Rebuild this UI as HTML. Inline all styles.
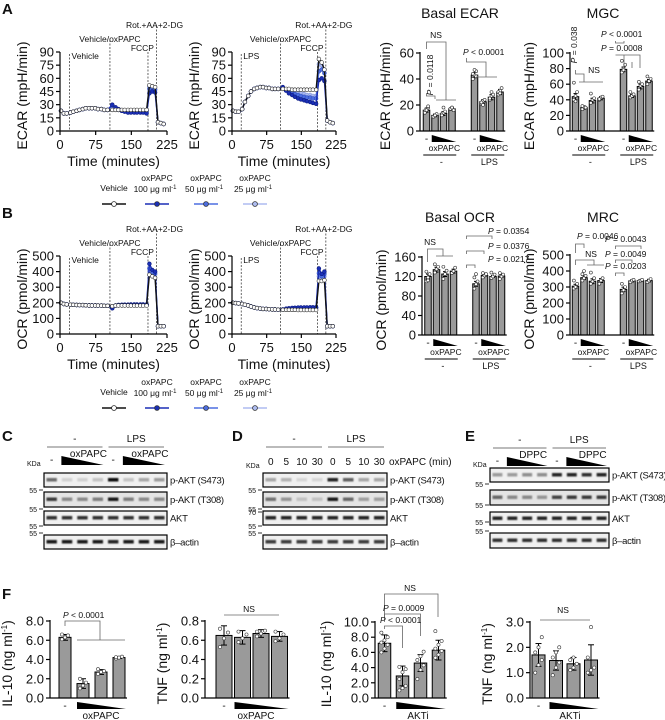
<!DOCTYPE html>
<html><head><meta charset="utf-8">
<style>
html,body{margin:0;padding:0;background:#fff;}
svg{display:block;font-family:"Liberation Sans",Arial,sans-serif;}
</style></head>
<body>
<svg id="fig" width="665" height="720" viewBox="0 0 665 720" xmlns="http://www.w3.org/2000/svg">
<defs><filter id="blur" x="-20%" y="-50%" width="140%" height="200%"><feGaussianBlur stdDeviation="0.9"/></filter></defs>
</svg>
<script>
// ---------- time-series data ----------
const seaTime = [2,8,14,22,28,35,41,48,54,61,67,74,80,87,93,100,110,117,123,130,136,143,149,156,162,169,175,182,188,194,200,206,212,218];
const ecarVehNaive  = [23,20,20,21,22,23,24,25,26,26,26,26,25,25,24,24,24,24,24,24,24,24,24,24,24,24,24,24,52,51,50,10,9,8];
const ecarOx100Naive= [23,20,20,21,22,23,24,25,26,26,26,26,25,25,24,24,30,27,25,23,22,21,21,21,21,21,21,20,43,45,44,10,9,8];
const ecarOx50Naive = [23,20,20,21,22,23,24,25,26,26,26,26,25,25,24,24,29,26,24,23,23,22,22,22,22,22,22,22,48,49,47,10,9,8];
const ecarOx25Naive = [23,20,20,21,22,23,24,25,26,26,26,26,25,25,24,24,28,25,24,23,23,23,23,23,23,23,23,23,50,50,48,10,9,8];
const ecarVehLps    = [23,22,22,25,33,40,45,48,49,50,50,49,49,48,48,48,48,48,48,47,47,47,47,47,47,47,47,47,82,78,70,12,10,9];
const ecarOx100Lps  = [23,22,22,25,33,40,45,48,49,50,50,49,49,48,48,48,50,46,43,41,39,37,36,35,34,33,32,31,58,60,57,12,10,9];
const ecarOx50Lps   = [23,22,22,25,33,40,45,48,49,50,50,49,49,48,48,48,49,46,44,43,42,41,40,39,38,38,37,37,68,70,66,12,10,9];
const ecarOx25Lps   = [23,22,22,25,33,40,45,48,49,50,50,49,49,48,48,48,49,47,46,45,44,43,43,42,41,41,40,40,76,75,70,12,10,9];
const ocrVehNaive   = [200,192,190,188,187,186,185,185,184,183,183,183,182,182,181,181,178,182,183,183,183,183,182,182,182,182,182,182,380,370,360,50,50,50];
const ocrOx100Naive = [200,192,190,188,187,186,185,185,184,183,183,183,182,182,181,181,165,182,186,187,188,188,189,189,189,189,189,189,450,410,400,50,50,50];
const ocrOx50Naive  = [200,192,190,188,187,186,185,185,184,183,183,183,182,182,181,181,168,183,185,186,187,187,188,188,188,188,188,188,420,395,390,50,50,50];
const ocrOx25Naive  = [200,192,190,188,187,186,185,185,184,183,183,183,182,182,181,181,170,182,184,185,185,186,186,186,186,186,186,186,400,385,380,50,50,50];
const ocrVehLps     = [200,198,196,192,188,183,176,170,166,163,161,160,159,158,157,156,155,155,155,155,155,154,154,154,154,154,154,154,340,340,345,50,50,50];
const ocrOx100Lps   = [200,198,196,192,188,183,176,170,166,163,161,160,159,158,157,156,158,162,165,167,168,169,170,170,170,171,171,171,420,385,400,50,50,50];
const ocrOx50Lps    = [200,198,196,192,188,183,176,170,166,163,161,160,159,158,157,156,157,160,163,165,166,167,168,168,168,168,168,168,390,370,385,50,50,50];
const ocrOx25Lps    = [200,198,196,192,188,183,176,170,166,163,161,160,159,158,157,156,156,159,161,163,164,165,165,166,166,166,166,166,370,360,370,50,50,50];
const timeTicks = [0,75,150,225];
const ecarTicks = [0,15,30,45,60,75,90];
const ocrTicks = [0,100,200,300,400,500];

// ---------- bar data ----------
const basalEcarVals = [16,12,13.5,17,43,22.5,26,30];
const basalEcarErr  = [1.5,1,1.5,1,2,1.5,2,2];
const basalEcarPts  = [[15,17,18,14,16,19],[11,12,13,11,12],[13,14,15,12,18],[17,18,16,17,18],[40,43,46,44,47,42],[21,23,24,22,20],[24,27,28,25,30],[28,31,33,30,29]];
const basalEcarTicks = [0,20,40,60];
const mgcVals = [44,30,39,42,79,45,57,64];
const mgcErr  = [4,2,3,2,3,2,3,2];
const mgcPts  = [[40,45,50,62,38],[28,31,30,32],[36,40,42,48],[40,43,44,41],[75,80,85,90,78],[43,45,47,50],[53,58,60,63],[60,64,67,70]];
const mgcTicks = [0,20,40,60,80,100];
const basalOcrVals = [120,134,125,131,105,122,120,121];
const basalOcrErr  = [5,5,5,4,5,2,2,3];
const basalOcrPts  = [[110,118,125,130,112],[128,135,140,145],[115,125,132,140],[127,131,138],[95,104,110,118,125],[118,122,125,127],[117,120,124,128],[115,120,124,127]];
const basalOcrTicks = [0,40,80,120,160];
const mrcVals = [305,358,336,340,285,338,340,340];
const mrcErr  = [12,12,15,12,14,6,6,8];
const mrcPts  = [[290,300,320,340],[340,355,370,380,400],[320,335,355,390],[320,340,355],[260,280,300,320],[330,340,345],[335,340,345],[330,340,350]];
const mrcTicks = [0,100,200,300,400,500];

const il10OxVals = [6.3,1.5,2.7,4.2];
const il10OxErr  = [0.3,0.5,0.25,0.1];
const il10OxPts  = [[6.1,6.3,6.5,6.6],[1.0,1.3,1.6,2.0],[2.5,2.7,2.8,3.0],[4.1,4.2,4.3,4.25]];
const il10OxTicks = [0,2,4,6,8];
const tnfOxVals = [0.65,0.63,0.67,0.64];
const tnfOxErr  = [0.1,0.07,0.04,0.05];
const tnfOxPts  = [[0.53,0.62,0.68,0.72],[0.58,0.62,0.66,0.69],[0.64,0.67,0.70,0.69],[0.59,0.62,0.66,0.69]];
const tnfOxTicks = [0,0.2,0.4,0.6,0.8];
const il10AktVals = [7.2,2.9,4.6,6.3];
const il10AktErr  = [1.1,1.3,1.1,1.3];
const il10AktPts  = [[6.0,6.5,7,7.3,7.6,8,8.6],[1.0,1.3,1.6,2.5,3.4,3.8,4.1],[2.5,3.7,4.3,5.0,5.5,6.1],[5.3,5.7,6.2,6.5,7.0,7.5,8.8]];
const il10AktTicks = [0,2,4,6,8,10];
const tnfAktVals = [1.7,1.48,1.35,1.5];
const tnfAktErr  = [0.45,0.38,0.25,0.6];
const tnfAktPts  = [[1.0,1.3,1.5,1.8,2.0,2.4],[0.9,1.2,1.4,1.6,1.8,2.0],[1.1,1.2,1.35,1.5,1.6],[1.0,1.1,1.2,1.6,2.8]];
const tnfAktTicks = [0,1,2,3];

// ---------- blot band intensities ----------
const blotC = [[0.55,0.12,0.12,0.18,0.95,0.18,0.3,0.35],[0.75,0.4,0.4,0.45,0.9,0.45,0.4,0.4],[0.8,0.8,0.8,0.8,0.8,0.8,0.8,0.8],[0.9,0.9,0.9,0.9,0.85,0.9,0.9,0.9]];
const blotD = [[0.3,0.25,0.1,0.1,0.85,0.6,0.3,0.3],[0.5,0.35,0.15,0.15,0.9,0.55,0.3,0.3],[0.85,0.85,0.85,0.85,0.85,0.85,0.85,0.85],[0.75,0.75,0.75,0.75,0.75,0.75,0.75,0.75]];
const blotE = [[0.35,0.35,0.4,0.4,0.85,0.85,0.8,0.85],[0.55,0.4,0.4,0.35,0.7,0.75,0.75,0.75],[0.85,0.85,0.85,0.85,0.85,0.85,0.85,0.85],[0.8,0.8,0.8,0.8,0.8,0.8,0.8,0.8]];

// ---------- helpers ----------
const NS='http://www.w3.org/2000/svg';
const svg=document.getElementById('fig');
function add(parent, tag, attrs, name){
  const e=document.createElementNS(NS,tag);
  for(const k in attrs) e.setAttribute(k,attrs[k]);
  
  
  parent.appendChild(e); return e;
}
function txt(parent,x,y,s,size,name,anchor,extra){
  const a={x:x,y:y,'font-size':size,fill:'#111','text-anchor':anchor||'start'};
  if(extra) for(const k in extra) a[k]=extra[k];
  const t=add(parent,'text',a,name); t.textContent=s; return t;
}
function line(p,x1,y1,x2,y2,name,w,col,dash){
  const a={x1:x1,y1:y1,x2:x2,y2:y2,stroke:col||'#000','stroke-width':w||1};
  if(dash) a['stroke-dasharray']=dash;
  return add(p,'line',a,name);
}
function grp(name){ return add(svg,'g',{},name); }
function rotText(p,x,y,s,size,name){
  return txt(p,x,y,s,size,name,'middle',{transform:'rotate(-90 '+x+' '+y+')'});
}

// ---------- panel letters ----------
[['A',2,14],['B',2,218],['C',2,441],['D',232,441],['E',465,441],['F',2,599]].forEach(l=>{
  txt(svg,l[1],l[2],l[0],15,'panel-label-'+l[0].toLowerCase(),'start',{'font-weight':'bold'});
});

// ---------- time series ----------
function tsChart(name,cfg){
  const g=grp(name);
  const sx=t=>cfg.ox+(t/225)*(cfg.ex-cfg.ox);
  const sy=v=>cfg.y0-(v/cfg.ymax)*(cfg.y0-cfg.yTop);
  cfg.vlines.forEach(v=>{
    line(g,sx(v.t),v.top,sx(v.t),cfg.y0,'injection-line',0.8,'#444','2,1.5');
    txt(g,v.lx,v.ly,v.label,8.5,'injection-label',v.anchor||'start');
  });
  cfg.series.forEach(s=>{
    const pts=seaTime.map((t,i)=>sx(t).toFixed(1)+','+sy(s.vals[i]).toFixed(1)).join(' ');
    add(g,'polyline',{points:pts,fill:'none',stroke:s.line,'stroke-width':1.4},'series-line-'+s.id);
    seaTime.forEach((t,i)=>{
      add(g,'circle',{cx:sx(t).toFixed(1),cy:sy(s.vals[i]).toFixed(1),r:1.9,fill:s.fill,stroke:s.stroke,'stroke-width':0.6},'point-'+s.id);
    });
  });
  line(g,cfg.ox,cfg.yTop,cfg.ox,cfg.y0,'y-axis',1.2);
  line(g,cfg.ox,cfg.y0,cfg.ex,cfg.y0,'x-axis',1.2);
  cfg.yticks.forEach(v=>{
    line(g,cfg.ox-4,sy(v),cfg.ox,sy(v),'y-tick',1.2);
    txt(g,cfg.ox-6,sy(v)+4.5,String(v),13,'y-tick-label','end');
  });
  timeTicks.forEach(v=>{
    line(g,sx(v),cfg.y0,sx(v),cfg.y0+4,'x-tick',1.2);
    txt(g,sx(v),cfg.y0+18,String(v),13,'x-tick-label','middle');
  });
  txt(g,(cfg.ox+cfg.ex)/2,cfg.y0+35,'Time (minutes)',14,'x-axis-title','middle');
  rotText(g,cfg.ox-33,(cfg.y0+cfg.yTop)/2+4,cfg.ytitle,14,'y-axis-title');
}
const C100='#1b2fb5',C50='#4d6ee0',C25='#aebcf0';
function seriesSet(v,a,b,c){
  return [
    {id:'oxpapc-25',vals:c,line:C25,fill:C25,stroke:'#7f92d8'},
    {id:'oxpapc-50',vals:b,line:C50,fill:C50,stroke:'#2d4cc0'},
    {id:'oxpapc-100',vals:a,line:C100,fill:C100,stroke:'#0a1a80'},
    {id:'vehicle',vals:v,line:'#111',fill:'#fff',stroke:'#222'}];
}
function vl(ox,ex,top,first){
  const sx=t=>ox+(t/225)*(ex-ox);
  return [
    {t:20,top:top+2,label:first,lx:sx(20)+2,ly:top+7},
    {t:105,top:top-12,label:'Vehicle/oxPAPC',lx:sx(105),ly:top-10,anchor:'middle'},
    {t:185,top:top,label:'FCCP',lx:sx(185)+6,ly:top-1,anchor:'end'},
    {t:203,top:top-26,label:'Rot.+AA+2-DG',lx:sx(203)-2,ly:top-24,anchor:'middle'}];
}
tsChart('ecar-naive-chart',{ox:60,ex:167,y0:131,yTop:52,ymax:90,yticks:ecarTicks,ytitle:'ECAR (mpH/min)',vlines:vl(60,167,52,'Vehicle'),series:seriesSet(ecarVehNaive,ecarOx100Naive,ecarOx50Naive,ecarOx25Naive)});
tsChart('ecar-lps-chart',{ox:232,ex:336,y0:131,yTop:52,ymax:90,yticks:ecarTicks,ytitle:'ECAR (mpH/min)',vlines:vl(232,336,52,'LPS'),series:seriesSet(ecarVehLps,ecarOx100Lps,ecarOx50Lps,ecarOx25Lps)});
tsChart('ocr-naive-chart',{ox:60,ex:167,y0:334,yTop:256,ymax:500,yticks:ocrTicks,ytitle:'OCR (pmol/min)',vlines:vl(60,167,256,'Vehicle'),series:seriesSet(ocrVehNaive,ocrOx100Naive,ocrOx50Naive,ocrOx25Naive)});
tsChart('ocr-lps-chart',{ox:232,ex:336,y0:334,yTop:256,ymax:500,yticks:ocrTicks,ytitle:'OCR (pmol/min)',vlines:vl(232,336,256,'LPS'),series:seriesSet(ocrVehLps,ocrOx100Lps,ocrOx50Lps,ocrOx25Lps)});

// ---------- legends ----------
function legend(name,y){
  const g=grp(name);
  const items=[['Vehicle','',114,'#111','#fff'],['oxPAPC','100 μg ml',157,C100,C100],['oxPAPC','50 μg ml',206,C50,C50],['oxPAPC','25 μg ml',255,C25,C25]];
  items.forEach((it,i)=>{
    const e=add(g,'g',{},'legend-entry');
    if(it[1]===''){ txt(e,it[2],y+10,it[0],8.5,'legend-label','middle'); }
    else {
      txt(e,it[2],y,it[0],8.5,'legend-label','middle');
      const t=txt(e,it[2]-2,y+11,it[1],8.5,'legend-sublabel','middle');
      const sp=document.createElementNS(NS,'tspan'); sp.setAttribute('font-size','6'); sp.setAttribute('dy','-3'); sp.textContent='-1'; t.appendChild(sp);
    }
    line(e,it[2]-12,y+23,it[2]+12,y+23,'legend-line',1.6,it[3]);
    add(e,'circle',{cx:it[2],cy:y+23,r:2.4,fill:it[4],stroke:i===0?'#222':'#333','stroke-width':0.8},'legend-marker');
  });
}
legend('legend-a',181);
legend('legend-b',385);

// ---------- bar charts ----------
function barChart(name,cfg){
  const g=grp(name);
  const sy=v=>cfg.y0-(v/cfg.ymax)*(cfg.y0-cfg.yTop);
  const cx=i=>cfg.cx0+i*cfg.sp+(i>=4?cfg.gap:0);
  cfg.vals.forEach((v,i)=>{
    add(g,'rect',{x:cx(i)-cfg.w/2,y:sy(v),width:cfg.w,height:cfg.y0-sy(v),fill:'#9a9a9a',stroke:'#000','stroke-width':1},'bar');
  });
  cfg.vals.forEach((v,i)=>{
    const e=cfg.err[i];
    line(g,cx(i),sy(v+e),cx(i),sy(Math.max(0,v-e)),'error-bar',1);
    line(g,cx(i)-cfg.cap,sy(v+e),cx(i)+cfg.cap,sy(v+e),'error-cap',1);
    line(g,cx(i)-cfg.cap,sy(v-e),cx(i)+cfg.cap,sy(v-e),'error-cap',1);
    cfg.pts[i].forEach((p,k)=>{
      const off=((k%3)-1)*cfg.w*0.25;
      add(g,'circle',{cx:cx(i)+off,cy:sy(p),r:cfg.r||1.5,fill:'#fff',stroke:'#333','stroke-width':0.6},'data-point');
    });
  });
  line(g,cfg.ax,cfg.yTop-1,cfg.ax,cfg.y0,'y-axis',1.2);
  line(g,cfg.ax,cfg.y0,cx(cfg.vals.length-1)+cfg.w/2+2,cfg.y0,'x-axis',1.2);
  cfg.ticks.forEach(v=>{
    line(g,cfg.ax-4,sy(v),cfg.ax,sy(v),'y-tick',1.2);
    txt(g,cfg.ax-6,sy(v)+4.5,cfg.fmt?cfg.fmt(v):String(v),cfg.fs||13,'y-tick-label','end');
  });
  const t=rotText(g,cfg.ax-cfg.tdx,(cfg.y0+cfg.yTop)/2+4,cfg.ytitle,cfg.tfs||14,'y-axis-title');
  if(cfg.sup){ const sp=document.createElementNS(NS,'tspan'); sp.setAttribute('font-size','8'); sp.setAttribute('dy','-5'); sp.textContent='-1'; t.appendChild(sp); const sp2=document.createElementNS(NS,'tspan'); sp2.setAttribute('dy','5'); sp2.textContent=')'; t.appendChild(sp2); }
  const groups=cfg.vals.length/4;
  for(let gi=0;gi<groups;gi++){
    const b=gi*4;
    txt(g,cx(b),cfg.y0+11,'-',10,'x-label-none','middle');
    const xl=cx(b+1)-cfg.w/2, xr=cx(b+3)+cfg.w/2+1;
    add(g,'polygon',{points:xl+','+(cfg.y0+4)+' '+xr+','+(cfg.y0+11)+' '+xl+','+(cfg.y0+11),fill:'#000'},'dose-wedge');
    if(cfg.treat){
      txt(g,(cx(b)+xr)/2+3,cfg.y0+20,cfg.treat,8.5,'treatment-label','middle');
    }
    if(cfg.groupLabels){
      line(g,cx(b)-cfg.w/2,cfg.y0+24,xr,cfg.y0+24,'group-underline',1);
      txt(g,(cx(b)+xr)/2,cfg.y0+34,cfg.groupLabels[gi],9,'group-label','middle');
    }
  }
  return g;
}
barChart('basal-ecar-chart',{ax:420,y0:131,yTop:53,ymax:60,cx0:426.5,sp:8.5,gap:14,w:6.5,cap:2,vals:basalEcarVals,err:basalEcarErr,pts:basalEcarPts,ticks:basalEcarTicks,ytitle:'ECAR (mpH/min)',tdx:30,treat:'oxPAPC',groupLabels:['-','LPS']});
barChart('mgc-chart',{ax:570,y0:131,yTop:53,ymax:100,cx0:575.5,sp:8.5,gap:14,w:6.5,cap:2,vals:mgcVals,err:mgcErr,pts:mgcPts,ticks:mgcTicks,ytitle:'ECAR (mpH/min)',tdx:36,treat:'oxPAPC',groupLabels:['-','LPS']});
barChart('basal-ocr-chart',{ax:422,y0:335,yTop:257,ymax:160,cx0:428,sp:8.5,gap:14,w:6.5,cap:2,vals:basalOcrVals,err:basalOcrErr,pts:basalOcrPts,ticks:basalOcrTicks,ytitle:'OCR (pmol/min)',tdx:36,treat:'oxPAPC',groupLabels:['-','LPS']});
barChart('mrc-chart',{ax:570,y0:335,yTop:255,ymax:500,cx0:575.5,sp:8.5,gap:14,w:6.5,cap:2,vals:mrcVals,err:mrcErr,pts:mrcPts,ticks:mrcTicks,ytitle:'OCR (pmol/min)',tdx:36,treat:'oxPAPC',groupLabels:['-','LPS']});

txt(svg,460,18,'Basal ECAR',14,'chart-title-basal-ecar','middle');
txt(svg,603,18,'MGC',14,'chart-title-mgc','middle');
txt(svg,460,222,'Basal OCR',14,'chart-title-basal-ocr','middle');
txt(svg,603,222,'MRC',14,'chart-title-mrc','middle');

const f1=(v)=>v.toFixed(1);
barChart('il10-oxpapc-chart',{ax:50,y0:698,yTop:621,ymax:8,cx0:65,sp:18,gap:0,w:12,cap:3,r:1.6,vals:il10OxVals,err:il10OxErr,pts:il10OxPts,ticks:il10OxTicks,fmt:f1,ytitle:'IL-10 (ng ml',sup:true,tdx:38});
barChart('tnf-oxpapc-chart',{ax:205,y0:698,yTop:621,ymax:0.8,cx0:224,sp:18.5,gap:0,w:16,cap:3,r:1.6,vals:tnfOxVals,err:tnfOxErr,pts:tnfOxPts,ticks:tnfOxTicks,fmt:f1,ytitle:'TNF (ng ml',sup:true,tdx:38});
barChart('il10-akti-chart',{ax:375,y0:698,yTop:622,ymax:10,cx0:384.5,sp:18,gap:0,w:12.5,cap:3,r:1.6,vals:il10AktVals,err:il10AktErr,pts:il10AktPts,ticks:il10AktTicks,fmt:f1,ytitle:'IL-10 (ng ml',sup:true,tdx:44});
barChart('tnf-akti-chart',{ax:530,y0:698,yTop:622,ymax:3,cx0:538.5,sp:17.5,gap:0,w:13,cap:3,r:1.6,vals:tnfAktVals,err:tnfAktErr,pts:tnfAktPts,ticks:tnfAktTicks,fmt:f1,ytitle:'TNF (ng ml',sup:true,tdx:38});
txt(svg,101,719,'oxPAPC',10,'x-label-oxpapc','middle');
txt(svg,256,719,'oxPAPC',10,'x-label-oxpapc','middle');
txt(svg,418,719,'AKTi',10,'x-label-akti','middle');
txt(svg,570,719,'AKTi',10,'x-label-akti','middle');

// ---------- significance annotations ----------
const ann=grp('significance-annotations');
function P(x,y,rest,anchor,rot){
  const t=txt(ann,x,y,'',8.5,'p-value-label',anchor||'start',rot?{transform:'rotate(-90 '+x+' '+y+')'}:null);
  const i=document.createElementNS(NS,'tspan'); i.setAttribute('font-style','italic'); i.textContent='P'; t.appendChild(i);
  const r=document.createElementNS(NS,'tspan'); r.textContent=rest; t.appendChild(r);
}
function br(pts){ add(ann,'polyline',{points:pts,fill:'none',stroke:'#666','stroke-width':0.8},'significance-bracket'); }
txt(ann,436,38,'NS',8.5,'ns-label','middle'); br('426.5,49 426.5,42 446,42 446,100');
P(433,75,' = 0.0118','middle',true); br('426.5,93 426.5,96 435,96 435,99'); br('436,100 456,100');
P(463,55,' < 0.0001'); br('466.5,58 466.5,62 486,62 486,77'); br('476,77 497,77');
P(577,45,' = 0.038','middle',true); br('575.5,70 575.5,74 584,74 584,82'); br('579,82 603,82');
txt(ann,594,73,'NS',8.5,'ns-label','middle');
P(601,37,' < 0.0001'); br('615.5,41 615.5,43 624,43 624,41');
P(601,51,' = 0.0008'); br('615.5,55 640,55 640,68'); br('624,55 624,68'); br('632,62 632,68');
txt(ann,430,245,'NS',8.5,'ns-label','middle'); br('427.5,262 427.5,249 443,249 443,256'); br('436,256 453,256');
P(488,234,' = 0.0354'); br('466.5,239 466.5,236 492,236 492,239');
P(488,249,' = 0.0376'); br('466.5,254 466.5,251 484,251 484,254');
P(488,262,' = 0.0217'); br('466.5,268 466.5,265 475,265 475,268');
P(577,239,' = 0.0046'); br('575.5,253 575.5,244 584,244 584,248');
txt(ann,591,257,'NS',8.5,'ns-label','middle'); br('575.5,265 575.5,260 594,260 594,265'); br('587,265 604,265');
P(605,242,' = 0.0043'); br('615.5,249 615.5,246 641,246 641,249');
P(605,257,' = 0.0049'); br('615.5,263 615.5,260 632,260 632,263');
P(605,269,' = 0.0203'); br('615.5,276 615.5,273 624,273 624,276');
P(63,618,' < 0.0001'); br('65,626 65,621 100,621 100,640'); br('77,640 125,640');
txt(ann,249,612,'NS',8.5,'ns-label','middle'); br('224,615 279,615');
txt(ann,410,591,'NS',8.5,'ns-label','middle'); br('384.5,622 384.5,594 438,594 438,617');
P(383,611,' = 0.0009'); br('384.5,617 384.5,614 420.5,614 420.5,636');
P(380,623,' < 0.0001'); br('384.5,629 384.5,626 402.5,626 402.5,648');
txt(ann,563,613,'NS',8.5,'ns-label','middle'); br('540,620 590,620');

// ---------- western blots ----------
function blot(name,cfg){
  const g=grp(name);
  const lw=(cfg.x1-cfg.x0)/8;
  cfg.rows.forEach((r,ri)=>{
    const rg=add(g,'g',{},'blot-row-'+cfg.labels[ri].replace(/[^a-z0-9]+/gi,'-').toLowerCase());
    add(rg,'rect',{x:cfg.x0,y:r[0],width:cfg.x1-cfg.x0,height:r[1]-r[0],fill:ri===1?'#e4e4e4':'#f0f0f0',stroke:'#000','stroke-width':1.2},'blot-membrane');
    cfg.data[ri].forEach((v,i)=>{
      add(rg,'rect',{x:cfg.x0+i*lw+2.5,y:(r[0]+r[1])/2-2,width:lw-5,height:3.5,fill:'#000',opacity:v,filter:'url(#blur)'},'protein-band');
    });
    txt(rg,cfg.x1+3,(r[0]+r[1])/2+3.5,cfg.labels[ri],9.5,'blot-label','start',{'letter-spacing':'-0.3'});
  });
  cfg.markers.forEach(m=>{
    txt(g,cfg.x0-7,m[0]+3,m[1],7,'kda-marker','end');
    line(g,cfg.x0-5,m[0],cfg.x0-1,m[0],'kda-tick',0.8);
  });
  txt(g,cfg.x0-17,cfg.kday,'KDa',7,'kda-label','start');
  const mid=(cfg.x0+cfg.x1)/2;
  line(g,cfg.x0+3,cfg.hy,mid-3,cfg.hy,'header-line',1,'#777');
  line(g,mid+3,cfg.hy,cfg.x1-3,cfg.hy,'header-line',1,'#777');
  txt(g,(cfg.x0+mid)/2,cfg.hy-5,'-',10,'header-label','middle');
  txt(g,(mid+cfg.x1)/2,cfg.hy-5,'LPS',10,'header-label','middle');
  if(cfg.lanes){
    cfg.lanes.forEach((s,i)=>txt(g,cfg.x0+lw*(i+0.5),cfg.hy+18,s,10,'lane-label','middle'));
    txt(g,cfg.x1+2,cfg.hy+18,'oxPAPC (min)',10,'lane-axis-label');
  } else {
    [0,4].forEach(b=>{
      txt(g,cfg.x0+lw*(b+0.5),cfg.hy+16,'-',10,'lane-label','middle');
      const xl=cfg.x0+lw*(b+1)+2, xr=cfg.x0+lw*(b+4)-2;
      add(g,'polygon',{points:xl+','+(cfg.hy+9)+' '+xr+','+(cfg.hy+18)+' '+xl+','+(cfg.hy+18),fill:'#000'},'dose-wedge');
      txt(g,(xl+xr)/2+6,cfg.hy+10,cfg.treat,10,'treatment-label','middle');
    });
  }
}
const rowsC=[[473,487],[492,507],[511,525],[535,549]];
const labs=['p-AKT (S473)','p-AKT (T308)','AKT','β–actin'];
blot('blot-c',{x0:44,x1:167,rows:rowsC,data:blotC,labels:labs,hy:447,kday:466,treat:'oxPAPC',markers:[[490,'55'],[509,'55'],[526,'55'],[533,'55']]});
blot('blot-d',{x0:263,x1:387,rows:rowsC,data:blotD,labels:labs,hy:447,kday:468,lanes:['0','5','10','30','0','5','10','30'],markers:[[490,'55'],[509,'55'],[512,'70'],[526,'55'],[533,'55']]});
blot('blot-e',{x0:490,x1:609,rows:[[468,482],[490,505],[512,525],[533,548]],data:blotE,labels:labs,hy:448,kday:467,treat:'DPPC',markers:[[484,'55'],[505,'55'],[522,'55'],[531,'55']]});
</script>
</body></html>
